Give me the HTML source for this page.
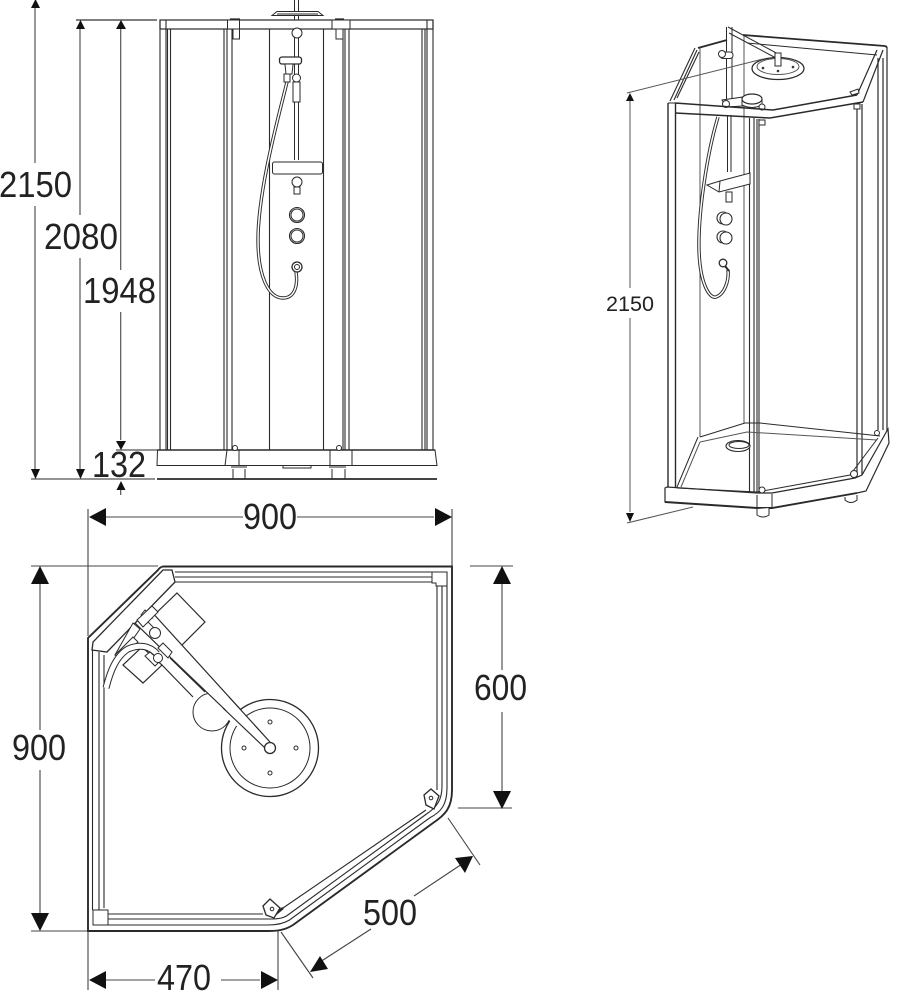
<!DOCTYPE html>
<html><head><meta charset="utf-8"><style>
html,body{margin:0;padding:0;background:#fff;width:910px;height:1000px;overflow:hidden}
svg{display:block}
text{font-family:"Liberation Sans",sans-serif;fill:#222}
.l{font-size:36px}
</style></head><body>
<svg width="910" height="1000" viewBox="0 0 910 1000" fill="none" stroke="#2a2a2a" stroke-width="1">
<!-- FRONT VIEW -->
<g>
<rect x="160" y="20" width="273" height="9" stroke-width="1.2"/>
<path d="M160 20V450M166 20V450M167.500 29V450M170.500 29V450M224 29V450M227 29V450M232 29V450M269.500 29V450M323.500 29V450M343 29V450M345 29V450M349 29V450M422 29V450M425 29V450M427 20V450M433 20V450" stroke-width="1.1"/>
<rect x="227.500" y="20" width="12" height="9" fill="#fff"/><rect x="233" y="29" width="6.500" height="10" fill="#fff"/>
<rect x="332" y="20" width="18" height="9" fill="#fff"/><rect x="336" y="29" width="7" height="10" fill="#fff"/>
<path d="M230 19H240M335 19H344" stroke-width="1.200"/>
<!-- head -->
<path d="M294.500 0V20M298.500 0V20"/>
<path d="M272 15.500H323L318 11.500H277Z" fill="#fff"/><path d="M277 14H318"/>
<path d="M294.500 29V160M298.500 29V160"/>
<circle cx="297" cy="33" r="5" fill="#fff"/>
<!-- hose -->
<path d="M287 82C279 115 258 190 258 240C258 275 268 298 283 298C295 298 298 285 296 272" stroke-width="3.400"/>
<path d="M287 82C279 115 258 190 258 240C258 275 268 298 283 298C295 298 298 285 296 272" stroke-width="1.500" stroke="#fff"/>
<rect x="279.500" y="57" width="22" height="7" rx="2.500" fill="#fff" stroke-width="1.300"/>
<path d="M285 64.500L286 74H292L293 64.500" fill="#fff"/>
<rect x="284" y="74" width="6" height="8" fill="#fff"/>
<rect x="293" y="82" width="7" height="20" fill="#fff"/>
<circle cx="296.500" cy="78" r="4" fill="#fff"/>
<rect x="272.500" y="162" width="50" height="12" rx="2" fill="#fff"/>
<circle cx="297" cy="182" r="5" fill="#fff"/><rect x="294" y="187" width="6" height="7" fill="#fff"/>
<circle cx="297" cy="215" r="7.500" fill="#fff" stroke-width="1.100"/><circle cx="297" cy="215" r="6"/>
<circle cx="297" cy="236" r="7.500" fill="#fff" stroke-width="1.100"/><circle cx="297" cy="236" r="6"/>
<circle cx="297" cy="267" r="5" fill="#fff" stroke-width="1.300"/><circle cx="297" cy="267" r="2.500"/>
<!-- base -->
<path d="M157.500 450H435L437 465.500H157Z" fill="#fff" stroke-width="1"/><path d="M157.500 450H435" stroke-width="1.600"/>
<path d="M227 450L225 465.500M239 450V465.500M330 450V465.500M352 450V465.500"/>
<path d="M283 466V468H311V466"/>
<path d="M231 467H247M233 469V479M245 469V479M329 467H346M332 469V479M345 469V479"/>
<circle cx="235" cy="448" r="2.500" fill="#fff"/><circle cx="339" cy="448" r="2.500" fill="#fff"/>
<path d="M157 479H437" stroke-width="1.800"/>
</g>
<!-- FRONT DIMS -->
<g stroke="#555" stroke-width="1.200">
<path d="M35 6V163M35 206V470M80 28V215M80 258V470M120.700 28V270M120.700 312V440M120.700 483V495"/>
<path d="M31 479H155M116 450H157"/>
</g>
<path d="M76 20H157" stroke="#333" stroke-width="1.200"/>
<g fill="#111" stroke="none">
<path d="M31 469H40L35.500 479ZM76 469H85L80.500 479ZM116 441H126L121 450ZM116.500 490H125.500L121 481ZM76 29H85L80.500 20ZM116 29H126L121 20ZM31 8H40L35.500 -1Z"/>
</g>
<g stroke="none">
<text class="l" x="-1" y="197" textLength="73" lengthAdjust="spacingAndGlyphs">2150</text>
<text class="l" x="44" y="249" textLength="74" lengthAdjust="spacingAndGlyphs">2080</text>
<text class="l" x="83" y="303" textLength="73" lengthAdjust="spacingAndGlyphs">1948</text>
<text class="l" x="92" y="477" textLength="54" lengthAdjust="spacingAndGlyphs">132</text>
</g>
<!-- PLAN DIMS -->
<g stroke="#444" stroke-width="1.100">
<path d="M88 509V636M452 509V566M106 517H243M297 517H434"/>
<path d="M31 566H158M31 931H88M40 584V730M40 770V913M470 566H513M458 808H512M502 584V670M502 712V791"/>
<path d="M88 931V990M278 931V990M106 980H155M221 980H260"/>
<path d="M281 932L313 978M448 818L480 865M320 962L371 929M414 896L462 864"/>
</g>
<g fill="#111" stroke="none">
<path d="M89 517L106 508V526ZM452 517L435 508V526ZM40 566L31 584H49ZM40 931L31 913H49ZM502 566L493 584H511ZM502 809L493 791H511ZM89 980L106 971V989ZM278 980L261 971V989ZM310 972L320 956L328 969ZM473 856L455 858L465 873Z"/>
<text class="l" x="243" y="529" textLength="54" lengthAdjust="spacingAndGlyphs">900</text>
<text class="l" x="12" y="760" textLength="54" lengthAdjust="spacingAndGlyphs">900</text>
<text class="l" x="474" y="700" textLength="53" lengthAdjust="spacingAndGlyphs">600</text>
<text class="l" x="363" y="925" textLength="54" lengthAdjust="spacingAndGlyphs">500</text>
<text class="l" x="157" y="990" textLength="54" lengthAdjust="spacingAndGlyphs">470</text>
</g>
<!-- PLAN VIEW -->
<g>
<path d="M163 566.500H452V790C452 808 445 815 433 823L293 925C285 930 278 931 268 931H88V638L158 570Q160 567 163 566.500Z" stroke-width="1.900"/>
<path d="M175 572H447V788C447 805 441 812 429.500 818L289.500 920C283 924 276 925 268 925H108M92.500 910V650" stroke-width="1.100"/>
<path d="M175 577H442V786C442 800 437 807 426.500 814L286.500 916C283 918 278 919 272 919H108M99 910V652" stroke-width="1.100"/>
<path d="M175 582H437V790M426 810L283 908M108 914H263M104 908V655" stroke-width="1.100"/>
<path d="M92 650L107 652L175 582L172 570H163L93 642Z" fill="#fff" stroke-width="1.300"/>
<path d="M432 572H447V586H436V583H432Z" fill="#fff"/>
<rect x="93" y="910" width="15" height="15" fill="#fff"/>
<!-- brackets -->
<path d="M424 795L431 789L439 796L434 809L426 805Z" fill="#fff" stroke-width="1.300"/><circle cx="431" cy="798" r="1.800"/>
<path d="M283 908L272 917" stroke-width="2.500"/>
<path d="M263 906L270 899L280 908L274 918L266 915Z" fill="#fff" stroke-width="1.300"/><circle cx="272" cy="909" r="1.800"/>
<!-- shelves -->
<path d="M177 593L205 622L178 649L149 620Z" fill="#fff" stroke-width="1.200"/>
<path d="M123 665L143 683L162 665L142 647Z" fill="#fff" stroke-width="1.200"/>
<circle cx="212" cy="712" r="19" fill="#fff"/>
<!-- cover bands -->
<path d="M115 655L133 623L140 629L120 658Z" fill="#fff"/>
<path d="M115 655L133 637L138 642L120 659Z" fill="#fff"/>
<path d="M145 610L177 643L173 647L141 615Z" fill="#fff"/>
<!-- arm -->
<path d="M150 610L270 742L265 748L170 657Z" fill="#fff" stroke="#fff"/>
<path d="M150 610L270 742M135 623L170 657L265 748M162 665L193 697M170 658L205 692" stroke-width="1.200"/>
<path d="M137 620L152 606L158 612L143 627Z" fill="#fff"/>
<!-- hose -->
<path d="M106 688C110 672 116 656 128 649C140 644 150 646 157 654" stroke-width="7"/>
<path d="M106 688C110 672 116 656 128 649C140 644 150 646 157 654" stroke-width="5" stroke="#fff"/>
<path d="M145 656L150 652L160 661L155 666Z" fill="#fff"/>
<path d="M158 648L163 643L172 652L168 658Z" fill="#fff"/>
<circle cx="155" cy="633" r="5.500" fill="#fff"/>
<circle cx="158" cy="658" r="4.500" fill="#fff"/>
<!-- head -->
<circle cx="270" cy="748" r="48.500" fill="#fff" stroke-width="1.300"/>
<circle cx="270" cy="748" r="40"/>
<path d="M229 697L270 742L265 748L225 717Z" fill="#fff" stroke="none"/>
<path d="M229 697L270 742M223 708L265 748" stroke-width="1.200"/>
<circle cx="270" cy="748" r="5.500" fill="#fff" stroke-width="1.300"/>
<circle cx="270" cy="722" r="2"/><circle cx="244" cy="748" r="2"/><circle cx="296" cy="748" r="2"/><circle cx="270" cy="773" r="2"/>
</g>
<!-- PERSPECTIVE -->
<g>
<path d="M700 48V437M744 35V423" stroke="#555"/>
<path d="M698 48L727 40M743 35L885 46" stroke-width="1.800"/>
<path d="M747 43L877 55" stroke-width=".9"/>
<!-- hose behind rail -->
<path d="M718 117C708 150 698 210 699 250C700 285 710 299 716 297C725 294 729 280 728 270" stroke-width="3.400"/>
<path d="M718 117C708 150 698 210 699 250C700 285 710 299 716 297C725 294 729 280 728 270" stroke-width="1.500" stroke="#fff"/>
<!-- rod -->
<path d="M726.500 27V105M732 27V105M727.500 115V172M731 115V172"/>
<!-- left rail -->
<path d="M670 101L695 48M674 100L697 50M677 98L699 52" stroke-width="1.100"/>
<!-- right rail -->
<path d="M857 95L877 50M863 102L883 50" stroke-width="1.200"/>
<path d="M878 58V430M883 58V430M887 47V432" stroke-width="1.200"/>
<path d="M885 46L887 47" stroke-width="2"/>
<!-- head -->
<ellipse cx="778" cy="68.500" rx="26" ry="11" fill="#fff" stroke-width="1.200"/><ellipse cx="778" cy="66.500" rx="21" ry="8" stroke="#555"/>
<path d="M728 27L780 55M729 33L776 58" fill="none"/>
<rect x="775" y="53" width="6" height="13" fill="#fff"/>
<circle cx="763" cy="68" r=".8"/><circle cx="778" cy="71" r=".8"/><circle cx="793" cy="67" r=".8"/>
<rect x="720" y="52" width="13" height="6.500" rx="3" fill="#fff"/><circle cx="722" cy="54" r="3.500" fill="#fff"/>
<!-- mixer -->
<path d="M722 100L743 97V106L726 107Z" fill="#fff"/>
<path d="M742 99V105Q752 110 762 105V99" fill="#fff"/><ellipse cx="752" cy="99" rx="10" ry="5" fill="#fff" stroke-width="1.200"/>
<circle cx="726" cy="104" r="3.500" fill="#fff"/><circle cx="762" cy="107" r="3" fill="#fff"/>
<path d="M850 92L858 89L859 93L852 95Z" fill="#fff"/>
<!-- top rail front -->
<path d="M675 103L773 110L857 95M675 113L770 118L863 102" stroke-width="1.500"/>
<path d="M668 103H675"/>
<path d="M668 103V488M675.500 103V487" stroke-width="1.400"/>
<path d="M749.500 118V492M754 118V492M757 119V492M759 119V493" stroke-width="1.100"/>
<path d="M857 106V477M862 104V475" stroke-width="1.200"/>
<rect x="759" y="120" width="6" height="5" fill="#fff"/>
<rect x="854" y="104" width="6" height="5" fill="#fff"/>
<!-- shelf and fittings -->
<path d="M707 185L720 181L750 173V184L719 192Z" fill="#fff"/><path d="M720 181L719 192"/>
<rect x="726" y="192" width="6" height="10" fill="#fff"/>
<circle cx="723" cy="218" r="6" fill="#fff" stroke-width="1.100"/><circle cx="726" cy="219" r="6" fill="#fff" stroke-width="1.100"/>
<circle cx="723" cy="237" r="6" fill="#fff" stroke-width="1.100"/><circle cx="726" cy="238" r="6" fill="#fff" stroke-width="1.100"/>
<circle cx="723" cy="263" r="3.800" fill="#fff" stroke-width="1.300"/><path d="M725 266L729 271" stroke-width="2"/>
<!-- tray -->
<path d="M700 437L745 423L760 423L880 436M698 437L677 487"/>
<path d="M700 442L747 432L877 440M700 442L681 487" stroke="#555"/>
<ellipse cx="738" cy="446" rx="12" ry="5.500" fill="#fff" stroke-width="1.100"/><ellipse cx="739" cy="445" rx="10" ry="3.500"/>
<path d="M665 488L667 487L757 493L772 493L855 478L862 475L888 429L889 443L866 491L857 493L772 508L757 508L665 502Z" fill="#fff" stroke-width="1.200"/>
<path d="M665 502L757 508L772 508L857 493" stroke-width="1.900"/>
<path d="M677 488L757 492L850 475L878 438M757 495V508M772 494V508"/>
<path d="M757 509V515Q763 519 769 515V508M845 497V500Q851 505 857 500V495" fill="#fff"/>
<circle cx="762" cy="490" r="3" fill="#fff"/><circle cx="854" cy="474" r="3.500" fill="#fff"/><circle cx="877" cy="433" r="2.500" fill="#fff"/>
</g>
<g stroke="#555">
<path d="M627 93L763 59M630 100V288M630 318V512M627 523L693 507"/>
</g>
<g fill="#111" stroke="none">
<path d="M630 93L626 101H634ZM630 522L626 513H634Z"/>
<text x="606" y="311" font-size="21" textLength="48" lengthAdjust="spacingAndGlyphs">2150</text>
</g>
</svg>
</body></html>
